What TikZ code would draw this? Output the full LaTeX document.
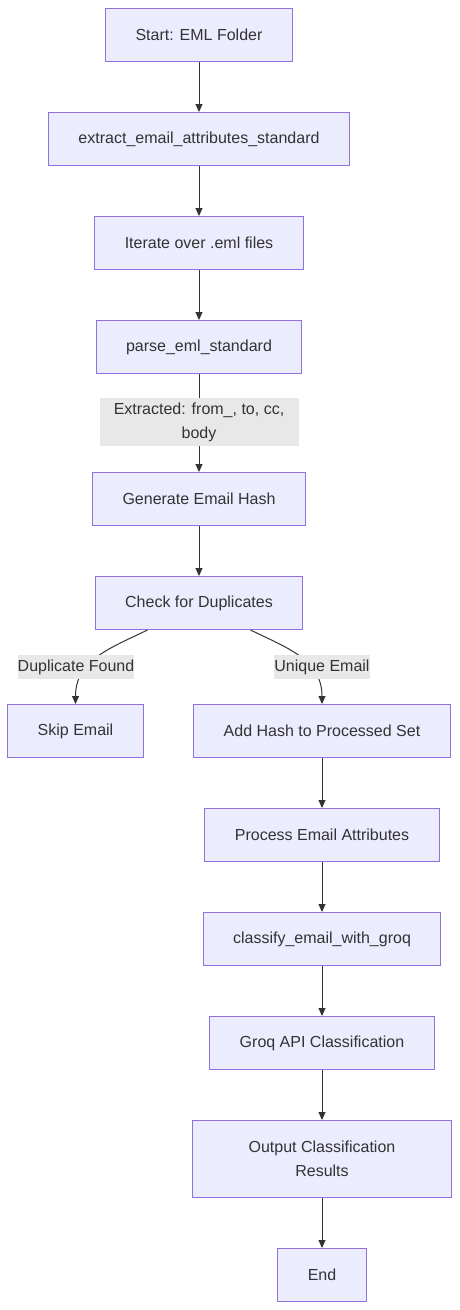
\documentclass[tikz,border=0pt]{standalone}
\usepackage{fontspec}
\setmainfont{Liberation Sans}
\usepackage{xcolor}
\definecolor{colorNodeFill}{HTML}{ECECFF}
\definecolor{colorNodeBorder}{HTML}{9370DB}
\definecolor{colorEdge}{HTML}{333333}
\definecolor{colorLabel}{HTML}{E8E8E8}
\usetikzlibrary{arrows.meta, positioning}
\tikzset{
  process/.style={draw=colorNodeBorder, fill=colorNodeFill, line width=1pt, text=colorEdge, minimum height=53pt, inner xsep=30pt, inner ysep=15pt, align=center},
  edgelabel/.style={fill=colorLabel, text=colorEdge, inner xsep=0pt, inner ysep=0pt, minimum height=24pt, align=center},
  flow/.style={->, draw=colorEdge, line width=1pt}
}
\begin{document}
\begin{tikzpicture}[x=1pt, y=-1pt, >={Triangle[length=8pt,width=7pt]}, node distance=50pt, font=\fontsize{16}{24}\selectfont]
\useasboundingbox (0,0) rectangle (460,1310);
\node[process] (start) at (199,35) {Start: EML Folder};
\node[process, below=of start] (extract) {extract\_email\_attributes\_standard};
\node[process, below=of extract] (iterate) {Iterate over .eml files};
\node[process, below=of iterate] (parse) {parse\_eml\_standard};
\node[process, below=98pt of parse] (hash) {Generate Email Hash};
\node[process, below=of hash] (check) {Check for Duplicates};
\node[process] (skip) at (75.5,731) {Skip Email};
\node[process] (add) at (322,731) {Add Hash to Processed Set};
\node[process, below=of add] (attrs) {Process Email Attributes};
\node[process, below=of attrs] (classify) {classify\_email\_with\_groq};
\node[process, below=of classify] (groq) {Groq API Classification};
\node[process, below=of groq, minimum width=259pt, minimum height=77pt] (output) {Output Classification\\Results};
\node[process, below=of output] (end) {End};
\draw[flow] (start) -- (extract);
\draw[flow] (extract) -- (iterate);
\draw[flow] (iterate) -- (parse);
\draw[flow] (parse) -- (hash);
\draw[flow] (hash) -- (check);
\draw[flow] ([xshift=-51.5pt]check.south) .. controls +(-37,18) and +(0,-44) .. (skip.north);
\draw[flow] ([xshift=51.5pt]check.south) .. controls +(37,18) and +(0,-44) .. (add.north);
\draw[flow] (add) -- (attrs);
\draw[flow] (attrs) -- (classify);
\draw[flow] (classify) -- (groq);
\draw[flow] (groq) -- (output);
\draw[flow] (output) -- (end);
\node[edgelabel, minimum width=199pt, minimum height=48pt] (lblextract) at (199,422) {Extracted: from\_, to, cc,\\body};
\node[edgelabel] (lbldup) at (76,667) {Duplicate Found};
\node[edgelabel] (lblunique) at (322,667) {Unique Email};
\end{tikzpicture}
\end{document}
